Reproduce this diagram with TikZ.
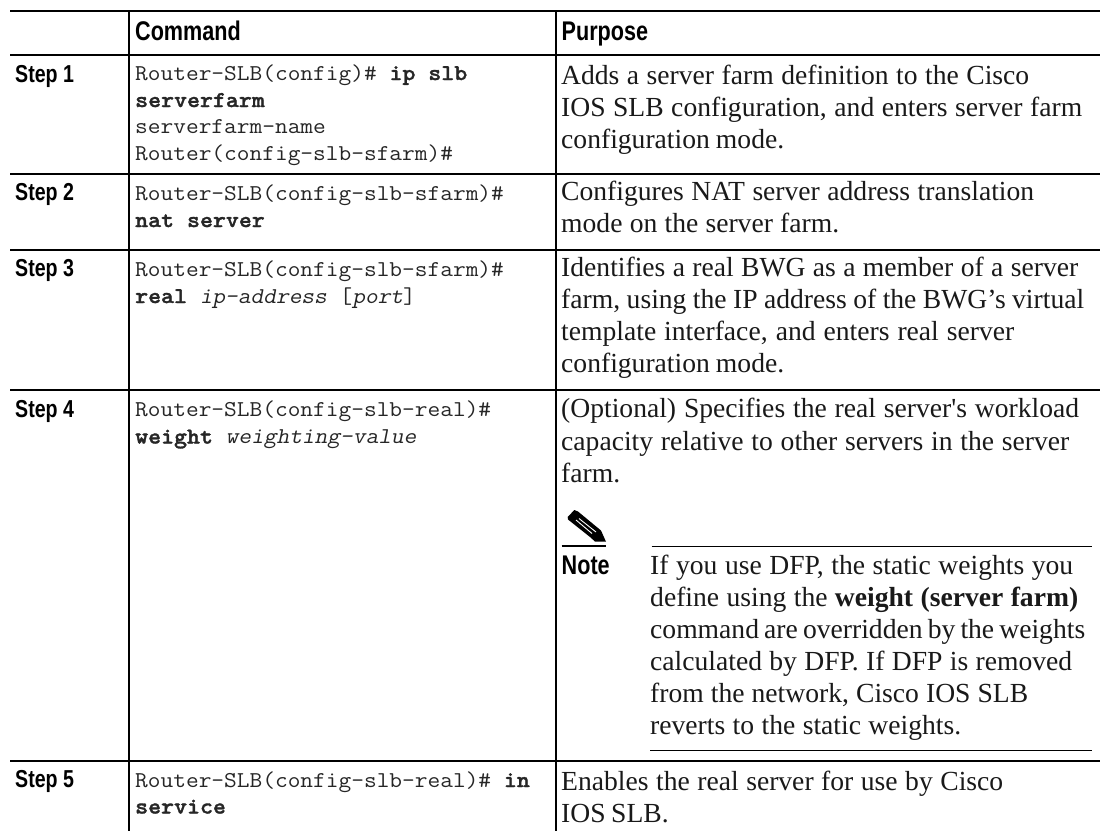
\documentclass[tikz,border=0pt]{standalone}
\usepackage{fontspec}
\newfontfamily\plainserif{Liberation Serif}
\newfontfamily\cnd[FakeStretch=0.8]{Liberation Sans}
\newfontfamily\cmono[FakeStretch=1.09,BoldFont={Latin Modern Mono Light/B},BoldFeatures={FakeBold=1.5},ItalicFont={Latin Modern Mono},ItalicFeatures={FakeSlant=0.2}]{Latin Modern Mono}
\newcommand{\fitl}[2]{\hbox to #1pt{\spaceskip=.25em plus 1fil minus .25em\relax #2}}
\begin{document}
\begin{tikzpicture}[x=1pt,y=-1pt,
 rul/.style={line width=2pt,black},
 thin rul/.style={line width=1pt},
 hd/.style={anchor=base west,inner sep=0pt,font=\fontsize{27}{27}\cnd\bfseries},
 st/.style={anchor=base west,inner sep=0pt,font=\fontsize{24.5}{24.5}\cnd\bfseries},
 mn/.style={anchor=base west,inner sep=0pt,font=\fontsize{22.65}{22.65}\cmono,text=black!85},
 tx/.style={anchor=base west,inner sep=0pt,font=\fontsize{27.6}{27.6}\plainserif,text=black!90}]
\useasboundingbox (0,0) rectangle (1100,831);
\coordinate (tl) at (10,11); \coordinate (tr) at (1100,11);
\coordinate (h1l) at (10,54.5); \coordinate (h1r) at (1100,54.5);
\coordinate (h2l) at (10,174); \coordinate (h2r) at (1100,174);
\coordinate (h3l) at (10,249.5); \coordinate (h3r) at (1100,249.5);
\coordinate (h4l) at (10,390); \coordinate (h4r) at (1100,390);
\coordinate (h5l) at (10,761); \coordinate (h5r) at (1100,761);
\coordinate (v1t) at (129,11); \coordinate (v1b) at (129,831);
\coordinate (v2t) at (556,11); \coordinate (v2b) at (556,831);
\foreach \a/\b in {tl/tr,h1l/h1r,h2l/h2r,h3l/h3r,h4l/h4r,h5l/h5r,v1t/v1b,v2t/v2b} \draw[rul] (\a)--(\b);
\node[hd] (cmd) at (135,40) {Command};
\node[hd] (pur) at (561.5,40) {Purpose};
\node[st] (s1) at (15,82) {Step 1};
\node[st] (s2) at (15,200) {Step 2};
\node[st] (s3) at (15,276) {Step 3};
\node[st] (s4) at (15,417) {Step 4};
\node[st] (s5) at (15,787) {Step 5};
\node[mn] (m1) at (135,80) {Router-SLB(config)\# \textbf{ip slb}};
\node[mn] (m2) at (135,107) {\textbf{serverfarm}};
\node[mn] (m3) at (135,133.5) {serverfarm-name};
\node[mn] (m4) at (135,160) {Router(config-slb-sfarm)\#};
\node[mn] (m5) at (135,200) {Router-SLB(config-slb-sfarm)\#};
\node[mn] (m6) at (135,227) {\textbf{nat server}};
\node[mn] (m7) at (135,276) {Router-SLB(config-slb-sfarm)\#};
\node[mn] (m8) at (135,303) {\textbf{real} \textit{ip-address} [\textit{port}]};
\node[mn] (m9) at (135,416.5) {Router-SLB(config-slb-real)\#};
\node[mn] (m10) at (135,443.5) {\textbf{weight} \textit{weighting-value}};
\node[mn] (m11) at (135,787) {Router-SLB(config-slb-real)\# \textbf{in}};
\node[mn] (m12) at (135,813.5) {\textbf{service}};
\node[tx] (p1) at (561,84) {\fitl{468}{Adds a server farm definition to the Cisco}};
\node[tx] (p2) at (561,116) {\fitl{521}{IOS SLB configuration, and enters server farm}};
\node[tx] (p3) at (561,148) {\fitl{223}{configuration mode.}};
\node[tx] (p4) at (561,200) {\fitl{473}{Configures NAT server address translation}};
\node[tx] (p5) at (561,232) {\fitl{278}{mode on the server farm.}};
\node[tx] (p6) at (561,276) {\fitl{517}{Identifies a real BWG as a member of a server}};
\node[tx] (p7) at (561,308) {\fitl{523}{farm, using the IP address of the BWG’s virtual}};
\node[tx] (p8) at (561,340) {\fitl{453}{template interface, and enters real server}};
\node[tx] (p9) at (561,372) {\fitl{223}{configuration mode.}};
\node[tx] (p10) at (561,417) {\fitl{518}{(Optional) Specifies the real server's workload}};
\node[tx] (p11) at (561,450) {\fitl{508}{capacity relative to other servers in the server}};
\node[tx] (p12) at (561,482) {farm.};
\node[hd] (note) at (561.5,574) {Note};
\node[tx] (n1) at (650,574) {\fitl{423}{If you use DFP, the static weights you}};
\node[tx] (n2) at (650,606.5) {\fitl{428}{define using the \textbf{weight (server farm)}}};
\node[tx] (n3) at (650,638.5) {\fitl{435}{command are overridden by the weights}};
\node[tx] (n4) at (650,670.5) {\fitl{422}{calculated by DFP. If DFP is removed}};
\node[tx] (n5) at (650,702.5) {\fitl{378}{from the network, Cisco IOS SLB}};
\node[tx] (n6) at (650,734.5) {\fitl{311}{reverts to the static weights.}};
\node[tx] (p13) at (561,790) {\fitl{442}{Enables the real server for use by Cisco}};
\node[tx] (p14) at (561,822) {\fitl{107.5}{IOS SLB.}};
\coordinate (a1) at (561.5,546); \coordinate (a2) at (605.7,546);
\coordinate (b1) at (651.7,546); \coordinate (b2) at (1092,546);
\coordinate (c1) at (650,750); \coordinate (c2) at (1092,750);
\draw[line width=1.6pt] (a1)--(a2);
\draw[thin rul] (b1)--(b2);
\draw[thin rul] (c1)--(c2);
% pencil
\fill (574.3,510) -- (578,511.5) -- (601,530.5) -- (606,541.7) -- (595,541.5) -- (590,537) -- (568,519.5) -- (567.7,517) -- cycle;
\draw[white,line width=.9pt] (579,518.5) -- (596,532);
\draw[white,line width=.9pt] (576,520) -- (592,533.5);
\end{tikzpicture}
\end{document}
